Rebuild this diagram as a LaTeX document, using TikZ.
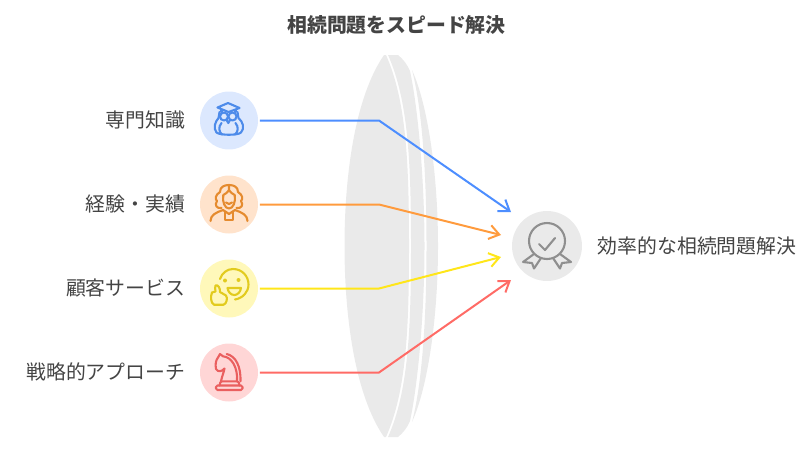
\documentclass[tikz,border=0pt]{standalone}
\usepackage{fontspec}
\setmainfont{Noto Sans CJK JP}
\usetikzlibrary{arrows.meta}
\definecolor{lensgray}{HTML}{EAEAEA}
\definecolor{txtgray}{HTML}{444444}
\definecolor{iconblue}{HTML}{4D8BEA}
\definecolor{iconorange}{HTML}{E58B2F}
\definecolor{iconyellow}{HTML}{E2CB1E}
\definecolor{iconred}{HTML}{EA5F5F}
\definecolor{icongray}{HTML}{8F8F8F}
\definecolor{discblue}{HTML}{DCE8FE}
\definecolor{discorange}{HTML}{FFE3CC}
\definecolor{discyellow}{HTML}{FFF8BA}
\definecolor{discred}{HTML}{FFD6D6}
\definecolor{lineblue}{HTML}{4D8EFF}
\definecolor{lineorange}{HTML}{FF9B3D}
\definecolor{lineyellow}{HTML}{FFE61A}
\definecolor{linered}{HTML}{FF6B66}
\tikzset{
	disc/.style={circle,minimum size=1.16cm,inner sep=0pt,outer sep=0.04cm},
	lbl/.style={text=txtgray,font=\fontsize{11.3}{13}\selectfont,anchor=east,inner sep=0pt},
	link/.style={line width=0.04cm,-{Straight Barb[length=0.2cm,width=0.28cm,line width=0.04cm]}},
	icon/.style={line width=0.042cm,line cap=round,line join=round}
}
\begin{document}
\begin{tikzpicture}[x=0.02cm,y=-0.02cm]
	\useasboundingbox (0,0) rectangle (800,450);

	\node[text=txtgray,font=\fontsize{11.3}{13}\selectfont\bfseries,inner sep=0pt] (title) at (396.5,25) {相続問題をスピード解決};

	% lens
	\fill[lensgray] (412,70) .. controls (428,105) and (438,175) .. (438,246) .. controls (438,317) and (428,387) .. (412,422) .. controls (423,380) and (426.5,310) .. (426.5,246) .. controls (426.5,182) and (423,112) .. (412,70) -- cycle;
	\fill[lensgray] (388,55) -- (398,55) .. controls (403,59) and (407,64) .. (410,71) .. controls (418,108) and (424.5,180) .. (424.5,246) .. controls (424.5,312) and (418,384) .. (410,421) .. controls (407,428) and (403,433) .. (398,437) -- (388,437) .. controls (408,392) and (411,332) .. (411,246) .. controls (411,160) and (408,100) .. (388,55) -- cycle;
	\fill[lensgray] (384,55) -- (386,55) .. controls (406,100) and (409,160) .. (409,246) .. controls (409,332) and (406,392) .. (386,437) -- (384,437) .. controls (355,395) and (344.5,317) .. (344.5,246) .. controls (344.5,175) and (355,97) .. (384,55) -- cycle;

	% circles
	\node[disc,fill=discblue] (expert) at (229,120.5) {};
	\node[disc,fill=discorange] (career) at (229,204.5) {};
	\node[disc,fill=discyellow] (service) at (229,288.5) {};
	\node[disc,fill=discred] (strategy) at (229,372.5) {};
	\node[disc,minimum size=1.4cm,fill=lensgray] (result) at (547,246) {};

	% labels
	\node[lbl] (lblexpert) at (185.5,120) {専門知識};
	\node[lbl] (lblcareer) at (185.5,204) {経験・実績};
	\node[lbl] (lblservice) at (185.5,288) {顧客サービス};
	\node[lbl] (lblstrategy) at (185.5,372) {戦略的アプローチ};
	\node[lbl,anchor=west] (lblresult) at (597.5,246) {効率的な相続問題解決};

	% connectors
	\coordinate (bendA) at (379,120.5);
	\coordinate (bendB) at (379,204.5);
	\coordinate (bendC) at (379,288.5);
	\coordinate (bendD) at (379,372.5);
	\coordinate (tipA) at (511,212);
	\coordinate (tipB) at (501,235);
	\coordinate (tipC) at (501,257);
	\coordinate (tipD) at (511,280);
	\draw[link,lineblue] (expert.east) -- (bendA) -- (tipA);
	\draw[link,lineorange] (career.east) -- (bendB) -- (tipB);
	\draw[link,lineyellow] (service.east) -- (bendC) -- (tipC);
	\draw[link,linered] (strategy.east) -- (bendD) -- (tipD);

	% owl
	\draw[icon,iconblue] (228,103) -- (239.5,108) -- (228.5,112) -- (217.5,107.5) -- cycle;
	\draw[icon,iconblue] (221.5,109.5) -- (221.5,112);
	\draw[icon,iconblue] (235.5,110) -- (235.5,112);
	\draw[icon,iconblue] (224,116.5) circle (4);
	\draw[icon,iconblue] (232.5,116.5) circle (4);
	\draw[icon,iconblue] (226.5,120) -- (228.3,123) -- (230,120);
	\draw[icon,iconblue] (219.5,112) .. controls (219,115) and (219,116) .. (218.5,118) .. controls (215,122) and (213,128) .. (216.5,132.5) .. controls (220,135.5) and (238,135.5) .. (241,132.5) .. controls (245,128) and (243,122) .. (238.5,118) .. controls (238,116) and (238,115) .. (237.5,112);
	\draw[icon,iconblue] (221.5,123) .. controls (218,127) and (219,132) .. (222,134.5);
	\draw[icon,iconblue] (235.5,123) .. controls (239,127) and (238,132) .. (235,134.5);

	% judge
	\draw[icon,iconorange] (229,185) .. controls (224,185) and (220,187) .. (220,192) .. controls (215,195) and (215,199) .. (217,201) .. controls (214,205) and (217,209) .. (221.5,208);
	\draw[icon,iconorange] (229,185) .. controls (234,185) and (238,187) .. (238,192) .. controls (243,195) and (243,199) .. (241,201) .. controls (244,205) and (241,209) .. (236.5,208);
	\draw[icon,iconorange] (229,185) -- (229,190) .. controls (227,193) and (225,194) .. (223.3,195) .. controls (222,202) and (225,208.5) .. (229,208.5) .. controls (233,208.5) and (236,202) .. (234.7,195) .. controls (233,194) and (231,193) .. (229,190);
	\draw[icon,iconorange] (226,202.5) .. controls (228,204.5) and (230,204.5) .. (232,202.5);
	\draw[icon,iconorange] (210.5,221) .. controls (210.5,215) and (216,212.5) .. (223,210) -- (229,214) -- (235,210) .. controls (242,212.5) and (247.5,215) .. (247.5,221);
	\draw[icon,iconorange] (225,212) -- (225,220) -- (233,220) -- (233,212);

	% smile and thumb
	\draw[icon,iconyellow] (220,279) .. controls (222,273) and (227,269) .. (233,269) .. controls (242,269) and (248.5,276) .. (248.5,284.5) .. controls (248.5,292) and (243,298) .. (235,299.5);
	\fill[iconyellow] (225,280.5) circle (2);
	\fill[iconyellow] (238.5,280) circle (2);
	\draw[icon,iconyellow] (227.5,288) -- (241,288) .. controls (240.5,292) and (237.5,295) .. (234.3,295) .. controls (231,295) and (228,292) .. (227.5,288) -- cycle;
	\draw[icon,iconyellow] (212,292.5) -- (215.5,291.5) .. controls (216,289) and (214,286.5) .. (215.5,285.5) .. controls (218.5,284.5) and (220,288) .. (220,292) -- (226,295.5) .. controls (228,298) and (226.5,304) .. (223.5,304.7) -- (214,304.7) .. controls (210.5,303) and (210.5,296) .. (212,292.5) -- cycle;

	% knight
	\draw[icon,iconred,rounded corners=0.03cm] (216,385.5) -- (242.5,385.5) -- (242.5,390) -- (216,390) -- cycle;
	\draw[icon,iconred] (219.5,385.5) .. controls (219.5,382.5) and (221,381.3) .. (222,381.3) -- (237,381.3) .. controls (238.5,381.3) and (239.5,383) .. (239.5,385.5);
	\draw[icon,iconred] (221,381.3) .. controls (222,376) and (224,372) .. (224.5,368.5) .. controls (222,371.5) and (218,372.5) .. (216,369) .. controls (215,364) and (216,360) .. (218,357.5) -- (220,354) -- (223,356.3) .. controls (232,357) and (238,368) .. (237,381.3);
	\draw[icon,iconred] (226.7,354) .. controls (236,356) and (241,367) .. (240.5,381.3);

	% ribbon badge
	\draw[icon,icongray] (547,241) circle (18);
	\draw[icon,icongray] (539,244) -- (545,250) -- (555,238);
	\draw[icon,icongray] (534,254) -- (523,262) -- (532,263) -- (534,268.5) -- (541,258);
	\draw[icon,icongray] (560,254) -- (571,262) -- (562,263) -- (560,268.5) -- (553,258);
\end{tikzpicture}
\end{document}
